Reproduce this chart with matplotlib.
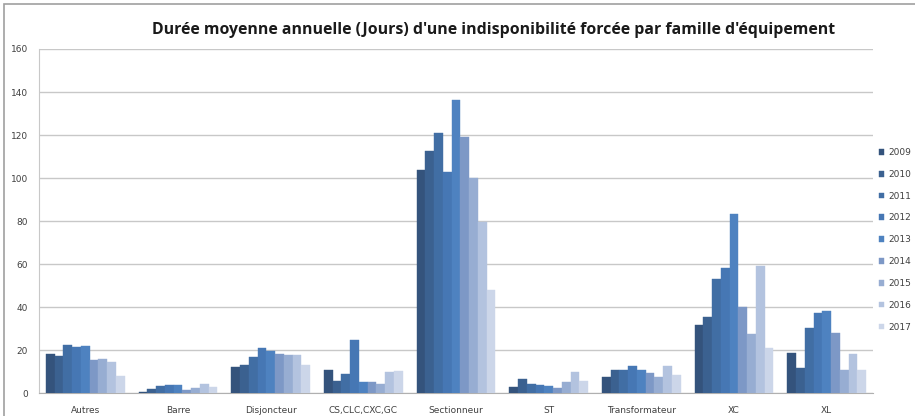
import matplotlib
matplotlib.use("Agg")
import matplotlib.pyplot as plt
import numpy as np
from matplotlib.patches import Rectangle

categories = ["Autres", "Barre", "Disjoncteur", "CS,CLC,CXC,GC", "Sectionneur",
              "ST", "Transformateur", "XC", "XL"]
years = ["2009", "2010", "2011", "2012", "2013", "2014", "2015", "2016", "2017"]

# values[year] = list per category
v2009 = [18.4, 0.6, 12.0, 10.6, 103.9, 2.8, 7.8, 31.6, 18.9]
v2010 = [17.3, 2.0, 13.1, 5.8, 112.4, 6.6, 10.6, 35.3, 11.8]
v2011 = [22.3, 3.3, 16.7, 9.2, 120.9, 4.5, 10.6, 53.3, 30.3]
v2012 = [21.4, 3.9, 21.2, 24.8, 102.9, 3.8, 12.8, 58.2, 37.3]
v2013 = [22.0, 3.9, 19.8, 5.3, 136.4, 3.6, 10.6, 83.1, 38.4]
v2014 = [15.3, 1.6, 18.4, 5.3, 118.9, 2.5, 9.4, 40.2, 28.0]
v2015 = [16.1, 2.5, 18.0, 4.5, 100.2, 5.3, 7.8, 27.4, 10.8]
v2016 = [14.7, 4.4, 17.8, 9.7, 79.8, 10.0, 12.7, 59.3, 18.3]
v2017 = [8.0, 3.1, 13.1, 10.5, 47.8, 5.9, 8.6, 20.9, 10.8]
series = [v2009, v2010, v2011, v2012, v2013, v2014, v2015, v2016, v2017]

colors = ["#34537c", "#3b6190", "#416ea4", "#4677b4", "#4e82c0",
          "#7d98c6", "#97add2", "#b3c3df", "#ccd6e9"]

fig = plt.figure(figsize=(9.15, 4.16), dpi=100)
ax = fig.add_axes([39/915, 1-393.3/416, (873-39)/915, (393.3-49)/416])

n = len(series)
group_w = 0.85
bw = group_w / n
x = np.arange(len(categories))
for i, (vals, c, yr) in enumerate(zip(series, colors, years)):
    ax.bar(x - group_w/2 + bw*(i+0.5), vals, width=bw, color=c, label=yr,
           edgecolor=c, linewidth=0.3, zorder=3)

ax.set_xlim(-0.5, len(categories)-0.5)
ax.set_ylim(0, 160)
ax.set_yticks(range(0, 161, 20))
ax.set_xticks(x)
ax.set_xticklabels(categories)
ax.tick_params(axis='both', length=0, labelsize=6.5, colors="#404040")
ax.tick_params(axis='y', pad=8)
ax.tick_params(axis='x', pad=9)
ax.grid(axis='y', color="#c8c8c8", linewidth=1.0, zorder=0)
for s in ["right", "top"]:
    ax.spines[s].set_visible(False)
ax.spines["left"].set_color("#c8c8c8")
ax.spines["bottom"].set_color("#b0b0b0")

fig.text(494/915, 1-30/416, "Durée moyenne annuelle (Jours) d'une indisponibilité forcée par famille d'équipement",
         ha="center", va="center", fontsize=11.4, fontweight="bold", family="Open Sans",
         color="#1a1a1a")

leg = fig.legend(loc="upper left", bbox_to_anchor=(879/915, 1-148/416), frameon=False,
                 fontsize=6.5, handlelength=0.6, handleheight=0.6, handletextpad=0.4,
                 labelspacing=1.42, borderaxespad=0, borderpad=0)
for t in leg.get_texts():
    t.set_color("#404040")

fig.patches.append(Rectangle((4/915, -0.01), 1, 1-4/416+0.01, transform=fig.transFigure,
                             fill=False, edgecolor="#a0a0a0", linewidth=1.2))

fig.savefig("out.png", dpi=100)
